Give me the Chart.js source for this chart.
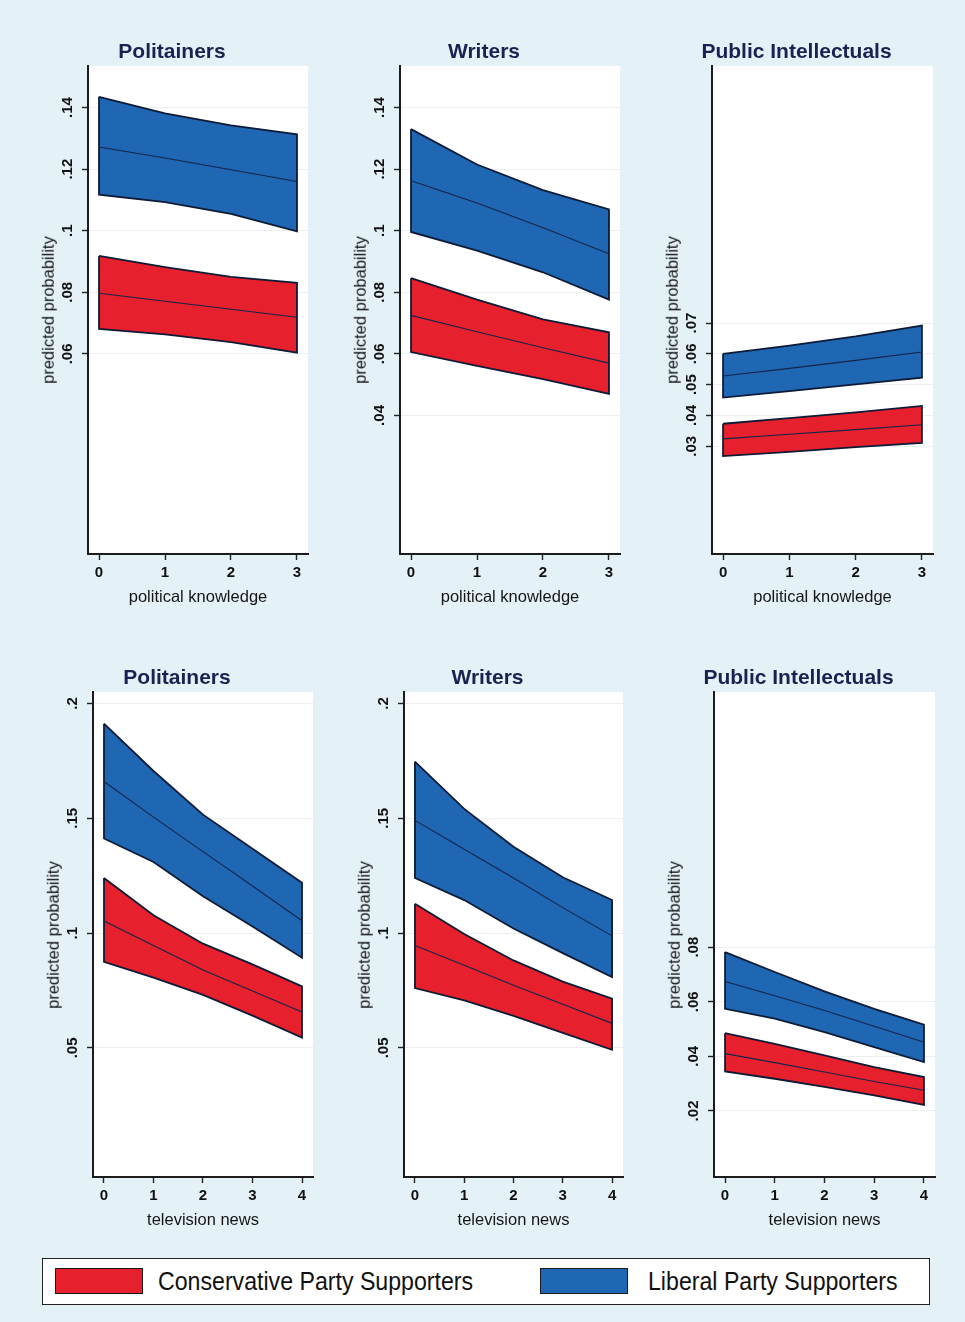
<!DOCTYPE html>
<html>
<head>
<meta charset="utf-8">
<script src="https://cdn.jsdelivr.net/npm/chart.js@4.4.1/dist/chart.umd.min.js"></script>
<style>
  html, body { margin:0; padding:0; }
  body { width:965px; height:1322px; background:#e4f2f8; position:relative; overflow:hidden;
         font-family:"Liberation Sans", Arial, sans-serif; }
  canvas { position:absolute; }
  .txt { position:absolute; white-space:nowrap; transform:translate(-50%,-50%); color:#111; line-height:1; }
  .ttl { font-size:21px; font-weight:bold; color:#1b2150; }
  .axt { font-size:16.5px; color:#151515; }
  .yaxt { transform:translate(-50%,-50%) rotate(-90deg); }
  #legend { position:absolute; left:42px; top:1258px; width:886px; height:45px; background:#fff; border:1.5px solid #222; }
  .sw { position:absolute; top:9px; width:86px; height:24px; border:1.5px solid #1a1a1a; }
  .lt { position:absolute; top:22px; font-size:26px; white-space:nowrap; transform-origin:0 50%; transform:translateY(-50%) scaleX(0.89); color:#111; line-height:1; }
</style>
</head>
<body>
<script>
// ---------- data ----------
const xKnowledge = [0, 1, 2, 3];
const xTelevision = [0, 1, 2, 3, 4];

// Politainers x political knowledge
const p1LibUpper = [0.1435, 0.1381, 0.1342, 0.1313];
const p1LibMid   = [0.1272, 0.1236, 0.1198, 0.1160];
const p1LibLower = [0.1117, 0.1093, 0.1055, 0.0998];
const p1ConUpper = [0.0918, 0.0882, 0.0850, 0.0831];
const p1ConMid   = [0.0797, 0.0771, 0.0745, 0.0719];
const p1ConLower = [0.0681, 0.0663, 0.0638, 0.0604];

// Writers x political knowledge
const p2LibUpper = [0.1330, 0.1215, 0.1132, 0.1069];
const p2LibMid   = [0.1162, 0.1090, 0.1010, 0.0925];
const p2LibLower = [0.0996, 0.0935, 0.0865, 0.0776];
const p2ConUpper = [0.0846, 0.0776, 0.0712, 0.0670];
const p2ConMid   = [0.0725, 0.0672, 0.0620, 0.0570];
const p2ConLower = [0.0606, 0.0561, 0.0518, 0.0470];

// Public Intellectuals x political knowledge
const p3LibUpper = [0.0600, 0.0627, 0.0657, 0.0692];
const p3LibMid   = [0.0528, 0.0553, 0.0579, 0.0606];
const p3LibLower = [0.0458, 0.0479, 0.0501, 0.0523];
const p3ConUpper = [0.0373, 0.0391, 0.0410, 0.0431];
const p3ConMid   = [0.0324, 0.0339, 0.0354, 0.0370];
const p3ConLower = [0.0268, 0.0282, 0.0297, 0.0311];

// Politainers x television news
const p4LibUpper = [0.1912, 0.1706, 0.1516, 0.1367, 0.1219];
const p4LibMid   = [0.1660, 0.1505, 0.1355, 0.1205, 0.1054];
const p4LibLower = [0.1412, 0.1310, 0.1161, 0.1029, 0.0893];
const p4ConUpper = [0.1240, 0.1078, 0.0954, 0.0864, 0.0768];
const p4ConMid   = [0.1053, 0.0946, 0.0839, 0.0748, 0.0657];
const p4ConLower = [0.0875, 0.0806, 0.0731, 0.0641, 0.0545];

// Writers x television news
const p5LibUpper = [0.1747, 0.1541, 0.1376, 0.1243, 0.1144];
const p5LibMid   = [0.1491, 0.1365, 0.1240, 0.1111, 0.0988];
const p5LibLower = [0.1240, 0.1144, 0.1020, 0.0913, 0.0809];
const p5ConUpper = [0.1128, 0.0996, 0.0881, 0.0789, 0.0715];
const p5ConMid   = [0.0946, 0.0860, 0.0773, 0.0690, 0.0607];
const p5ConLower = [0.0761, 0.0707, 0.0640, 0.0566, 0.0492];

// Public Intellectuals x television news
const p6LibUpper = [0.0782, 0.0709, 0.0638, 0.0574, 0.0516];
const p6LibMid   = [0.0674, 0.0622, 0.0568, 0.0510, 0.0452];
const p6LibLower = [0.0574, 0.0538, 0.0489, 0.0434, 0.0379];
const p6ConUpper = [0.0485, 0.0446, 0.0404, 0.0361, 0.0324];
const p6ConMid   = [0.0410, 0.0377, 0.0343, 0.0308, 0.0276];
const p6ConLower = [0.0345, 0.0318, 0.0288, 0.0257, 0.0222];

// tick labels
const yLabelsP1 = ['.06', '.08', '.1', '.12', '.14'];
const yLabelsP2 = ['.04', '.06', '.08', '.1', '.12', '.14'];
const yLabelsP3 = ['.03', '.04', '.05', '.06', '.07'];
const yLabelsP4 = ['.05', '.1', '.15', '.2'];
const yLabelsP5 = ['.05', '.1', '.15', '.2'];
const yLabelsP6 = ['.02', '.04', '.06', '.08'];
const xLabelsKnowledge = ['0', '1', '2', '3'];
const xLabelsTelevision = ['0', '1', '2', '3', '4'];

const panelTitles = ['Politainers', 'Writers', 'Public Intellectuals'];
const xTitleTop = 'political knowledge';
const xTitleBottom = 'television news';
const yTitle = 'predicted probability';
const seriesNames = ['Conservative Party Supporters', 'Liberal Party Supporters'];

// ---------- style / layout ----------
const BLUE = '#1f66b3';
const RED = '#e6202d';
const OUTLINE = '#0d1b36';
const MIDLINE = '#14254a';

const panels = [
  {L:88,  R:308, T:66,  B:554,  x:xKnowledge,  xl:xLabelsKnowledge,  xr:[-0.167,3.167], yr:[-0.005,0.1535], yl:yLabelsP1, lib:[p1LibUpper,p1LibMid,p1LibLower], con:[p1ConUpper,p1ConMid,p1ConLower], title:panelTitles[0], xt:xTitleTop},
  {L:400, R:620, T:66,  B:554,  x:xKnowledge,  xl:xLabelsKnowledge,  xr:[-0.167,3.167], yr:[-0.005,0.1535], yl:yLabelsP2, lib:[p2LibUpper,p2LibMid,p2LibLower], con:[p2ConUpper,p2ConMid,p2ConLower], title:panelTitles[1], xt:xTitleTop},
  {L:712, R:933, T:66,  B:554,  x:xKnowledge,  xl:xLabelsKnowledge,  xr:[-0.167,3.167], yr:[-0.005,0.1535], yl:yLabelsP3, lib:[p3LibUpper,p3LibMid,p3LibLower], con:[p3ConUpper,p3ConMid,p3ConLower], title:panelTitles[2], xt:xTitleTop},
  {L:93,  R:313, T:692, B:1177, x:xTelevision, xl:xLabelsTelevision, xr:[-0.222,4.222], yr:[-0.0062,0.205], yl:yLabelsP4, lib:[p4LibUpper,p4LibMid,p4LibLower], con:[p4ConUpper,p4ConMid,p4ConLower], title:panelTitles[0], xt:xTitleBottom},
  {L:404, R:623, T:692, B:1177, x:xTelevision, xl:xLabelsTelevision, xr:[-0.222,4.222], yr:[-0.0062,0.205], yl:yLabelsP5, lib:[p5LibUpper,p5LibMid,p5LibLower], con:[p5ConUpper,p5ConMid,p5ConLower], title:panelTitles[1], xt:xTitleBottom},
  {L:714, R:935, T:692, B:1177, x:xTelevision, xl:xLabelsTelevision, xr:[-0.222,4.222], yr:[-0.0042,0.1735], yl:yLabelsP6, lib:[p6LibUpper,p6LibMid,p6LibLower], con:[p6ConUpper,p6ConMid,p6ConLower], title:panelTitles[2], xt:xTitleBottom}
];

function bandPolygon(xs, upper, lower) {
  const pts = xs.map((x, i) => ({x, y: upper[i]}));
  for (let i = xs.length - 1; i >= 0; i--) pts.push({x: xs[i], y: lower[i]});
  pts.push({x: xs[0], y: upper[0]});
  return pts;
}
function linePoints(xs, ys) { return xs.map((x, i) => ({x, y: ys[i]})); }

function addText(cls, text, x, y) {
  const d = document.createElement('div');
  d.className = 'txt ' + cls;
  d.textContent = text;
  d.style.left = x + 'px';
  d.style.top = y + 'px';
  document.body.appendChild(d);
}

const PADL = 60, PADT = 10, PADR = 10, PADB = 50;

const areaPlugin = {
  id: 'plotArea',
  beforeDraw(chart) {
    const a = chart.chartArea, ctx = chart.ctx;
    ctx.save();
    ctx.fillStyle = '#ffffff';
    ctx.fillRect(a.left, a.top, a.right - a.left, a.bottom - a.top);
    ctx.restore();
  },
  afterDraw(chart) {
    const p = chart.options.plugins.plotArea.panel;
    const ctx = chart.ctx, a = chart.chartArea;
    const ys = chart.scales.y, xs = chart.scales.x;
    ctx.save();
    ctx.fillStyle = '#111';
    ctx.font = 'bold 15px "Liberation Sans", Arial, sans-serif';
    p.yl.forEach(s => {
      const py = ys.getPixelForValue(Number(s));
      ctx.save();
      ctx.translate(a.left - 20, py);
      ctx.rotate(-Math.PI / 2);
      ctx.textAlign = 'center';
      ctx.textBaseline = 'middle';
      ctx.fillText(s, 0, 0);
      ctx.restore();
    });
    ctx.textAlign = 'center';
    ctx.textBaseline = 'middle';
    p.xl.forEach(s => {
      const px = xs.getPixelForValue(Number(s));
      ctx.fillText(s, px, a.bottom + 19);
    });
    ctx.restore();
  }
};

panels.forEach((p) => {
  const W = p.R - p.L + PADL + PADR;
  const H = p.B - p.T + PADT + PADB;
  const cv = document.createElement('canvas');
  cv.width = W; cv.height = H;
  cv.style.left = (p.L - PADL) + 'px';
  cv.style.top = (p.T - PADT) + 'px';
  cv.style.width = W + 'px'; cv.style.height = H + 'px';
  document.body.appendChild(cv);

  // Chart.js draws dataset 0 on top, so the centre lines come first
  const datasets = [
    {data: linePoints(p.x, p.lib[1]), borderColor: MIDLINE, borderWidth: 1.1, fill: false},
    {data: linePoints(p.x, p.con[1]), borderColor: MIDLINE, borderWidth: 1.1, fill: false},
    {data: bandPolygon(p.x, p.lib[0], p.lib[2]), backgroundColor: BLUE, borderColor: OUTLINE, borderWidth: 1.8, fill: 'shape'},
    {data: bandPolygon(p.x, p.con[0], p.con[2]), backgroundColor: RED, borderColor: OUTLINE, borderWidth: 1.8, fill: 'shape'}
  ];

  new Chart(cv, {
    type: 'line',
    data: {datasets},
    plugins: [areaPlugin],
    options: {
      responsive: false,
      animation: false,
      devicePixelRatio: 1,
      layout: {padding: {left: 0, top: PADT, right: PADR, bottom: 0}},
      elements: {point: {radius: 0, hoverRadius: 0}, line: {tension: 0, borderJoinStyle: 'miter'}},
      plugins: {legend: {display: false}, tooltip: {enabled: false}, title: {display: false}, plotArea: {panel: p}},
      scales: {
        x: {
          type: 'linear', min: p.xr[0], max: p.xr[1],
          afterBuildTicks: s => { s.ticks = p.xl.map(v => ({value: Number(v)})); },
          afterFit: s => { s.height = PADB; },
          ticks: {display: false},
          grid: {drawOnChartArea: false, drawTicks: true, tickLength: 6, tickColor: '#222', tickWidth: 1.4},
          border: {display: true, color: '#1c1c1c', width: 2}
        },
        y: {
          type: 'linear', min: p.yr[0], max: p.yr[1],
          afterBuildTicks: s => { s.ticks = p.yl.map(v => ({value: Number(v)})); },
          afterFit: s => { s.width = PADL; },
          ticks: {display: false},
          grid: {drawOnChartArea: true, color: '#eceff1', lineWidth: 1, drawTicks: true, tickLength: 6, tickColor: '#222', tickWidth: 1.4},
          border: {display: true, color: '#1c1c1c', width: 2}
        }
      }
    }
  });

  const cx = (p.L + p.R) / 2;
  const cy = (p.T + p.B) / 2;
  addText('ttl', p.title, cx - 26, p.T - 16);
  addText('axt', p.xt, cx, p.B + 42);
  addText('axt yaxt', yTitle, p.L - 40, cy);
});

// legend
const lg = document.createElement('div');
lg.id = 'legend';
lg.innerHTML =
  '<div class="sw" style="left:12px;background:' + RED + '"></div>' +
  '<div class="lt" style="left:115px">' + seriesNames[0] + '</div>' +
  '<div class="sw" style="left:497px;background:' + BLUE + '"></div>' +
  '<div class="lt" style="left:605px">' + seriesNames[1] + '</div>';
document.body.appendChild(lg);
</script>
</body>
</html>
